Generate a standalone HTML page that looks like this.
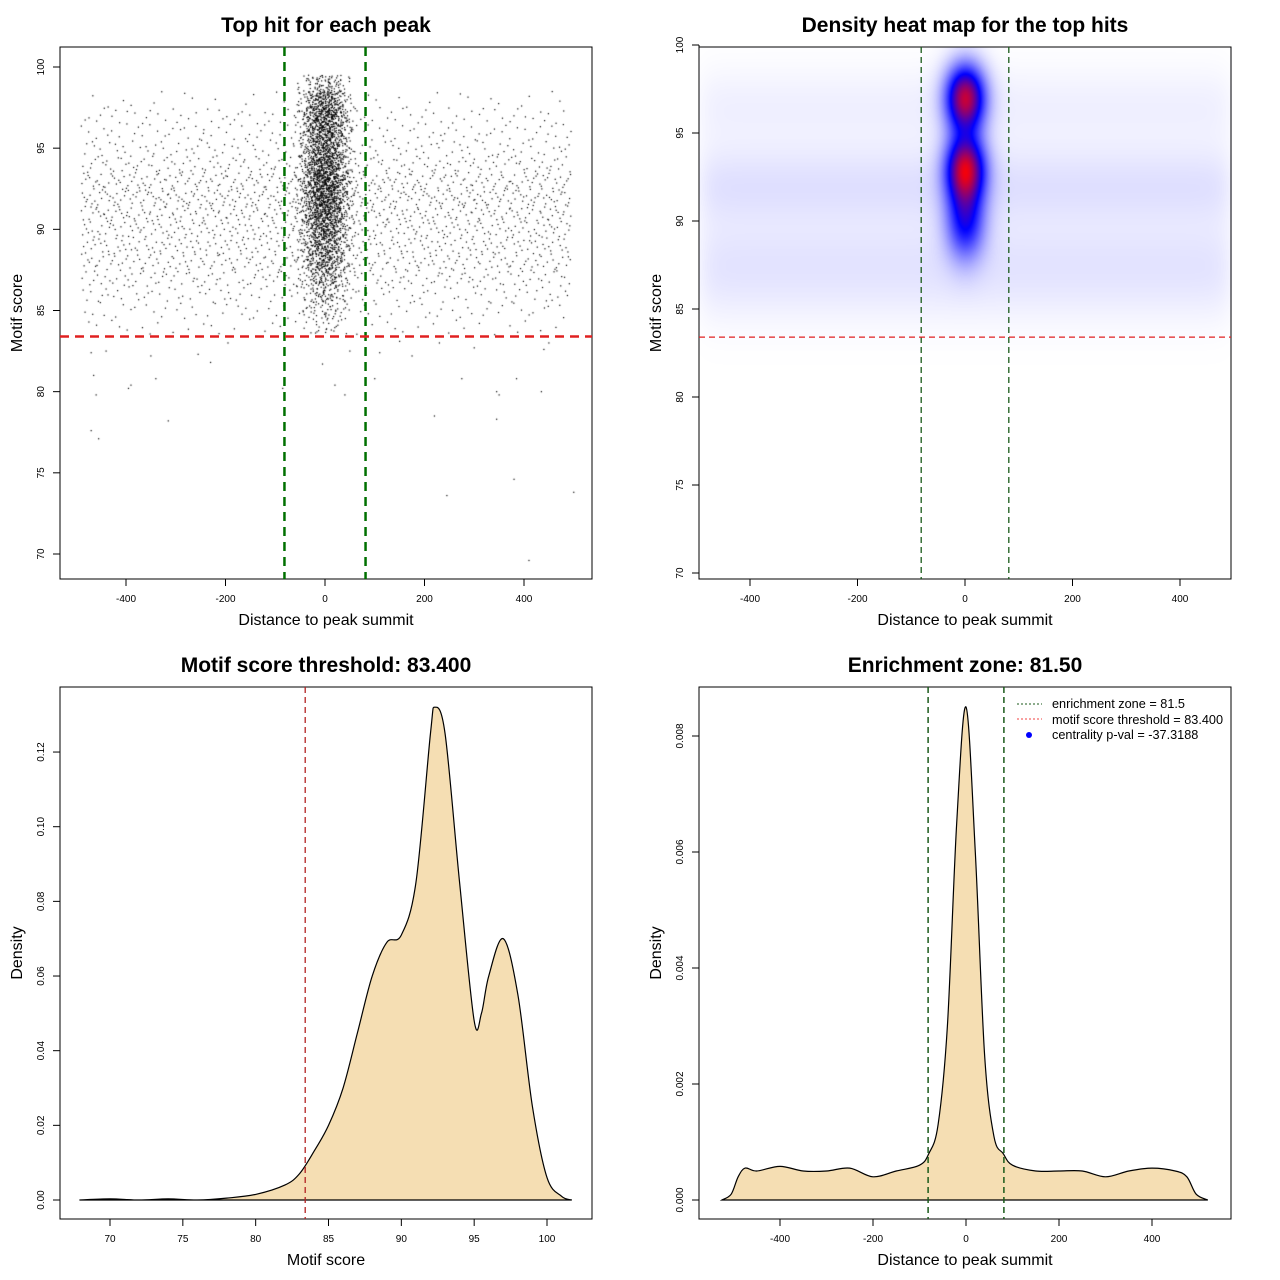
<!DOCTYPE html>
<html><head><meta charset="utf-8"><style>
body{margin:0;background:#fff;}
#wrap{position:relative;width:1280px;height:1280px;overflow:hidden;background:#fff;}
canvas{position:absolute;}
svg{position:absolute;left:0;top:0;}
text{font-family:"Liberation Sans",sans-serif;}
</style></head><body>
<div id="wrap">
<canvas id="scat" width="532" height="532" style="left:60px;top:47px"></canvas>
<canvas id="heat" width="533" height="532" style="left:699px;top:47px"></canvas>
<svg id="svg" width="1280" height="1280"></svg>
</div>
<script>
// ---- data ----
const bgYBins=[84,85,86,87,88,89,90,91,92,93,94,95,96,97,98];
const bgYCounts=[40,70,100,150,190,200,210,240,260,230,160,110,90,80,30];
const ctrYBins=[84,85,86,87,88,89,90,91,92,93,94,95,96,97,98,99];
const ctrYCounts=[20,40,70,110,170,200,250,300,340,350,300,260,280,300,220,90];
const outX=[-470,-465,-460,-470,-455,-395,-390,-350,-340,-315,-255,-195,-85,-5,20,40,50,100,110,175,220,230,275,345,345,350,380,385,410,435,440,500,245,450,-440,-230,150,300];
const outY=[82.4,81,79.8,77.6,77.1,80.2,80.4,82.2,80.8,78.2,82.3,83.0,80.2,81.7,80.4,79.8,82.5,80.8,82.4,82.2,78.5,83,80.8,78.3,80,79.8,74.6,80.8,69.6,80,82.6,73.8,73.6,83,82.5,81.8,83.1,82.7];
const blobX=[0,0,0];
const blobY=[97,93,90];
const blobW=[0.85,0.85,0.45];
const bandY=[92,88,96.5,86];
const bandW=[0.06,0.04,0.03,0.025];
const scoreX=[67.9,70,72,74,76,78,80,82,83,84,85,86,87,88,89,90,91,92,92.3,93,94,95,95.5,96,97,98,99,100,101,101.7];
const scoreD=[0,0.0003,0,0.0003,0,0.0005,0.0015,0.004,0.007,0.013,0.02,0.03,0.045,0.06,0.069,0.071,0.085,0.125,0.132,0.125,0.085,0.048,0.05,0.06,0.07,0.055,0.025,0.006,0.001,0];
const distX=[-525,-505,-490,-475,-450,-400,-350,-300,-250,-200,-150,-100,-80,-60,-40,-20,0,20,40,60,80,100,150,200,250,300,350,400,450,475,495,520];
const distD=[0,0.0001,0.0004,0.00055,0.0005,0.00058,0.0005,0.0005,0.00055,0.0004,0.0005,0.0006,0.0008,0.0013,0.003,0.0065,0.0085,0.006,0.0025,0.0011,0.0008,0.0006,0.0005,0.0005,0.0005,0.0004,0.0005,0.00055,0.0005,0.0004,0.0001,0];
const zone=81.5, thr=83.4;

// ---- scales ----
const x1=v=>325+v*0.4975, y1=v=>67+(100-v)*16.233;
const x2=v=>965+v*0.5375, y2=v=>45+(100-v)*17.6;
const x3=v=>110+(v-70)*14.567, y3=v=>1200-v*3733;
const x4=v=>966+v*0.465, y4=v=>1200-v*58000;

const svg=document.getElementById('svg');
const NS='http://www.w3.org/2000/svg';
function mk(tag,attrs,parent){const e=document.createElementNS(NS,tag);for(const k in attrs)e.setAttribute(k,attrs[k]);(parent||svg).appendChild(e);return e;}
function txt(s,x,y,size,opts){const e=mk('text',Object.assign({x:x,y:y,'font-size':size,'text-anchor':'middle'},opts||{}));e.textContent=s;return e;}

function halton(i,b){let f=1,r=0;while(i>0){f/=b;r+=f*(i%b);i=Math.floor(i/b);}return r;}

// scatter
const sc=document.getElementById('scat').getContext('2d');
sc.fillStyle='#000';
function dot(x,y){sc.fillRect(x-60-0.6,y-47-0.6,1.2,1.2);}
let idx=1;
bgYBins.forEach((b,k)=>{for(let i=0;i<bgYCounts[k];i++){const v=-490+halton(idx,2)*985;const w=b-0.5+halton(idx,3);idx++;dot(x1(v),y1(w));}});
ctrYBins.forEach((b,k)=>{for(let i=0;i<ctrYCounts[k];i++){const v=(halton(idx,2)+halton(idx,5)+halton(idx,7)-1.5)*46;const w=b-0.5+halton(idx,3);idx++;dot(x1(v),y1(w));}});
outX.forEach((v,i)=>dot(x1(v),y1(outY[i])));

// heatmap
const hc=document.getElementById('heat').getContext('2d');
const img=hc.createImageData(533,532);
for(let py=0;py<532;py++){const w=100-(py+47-45)/17.6;
 let band=0;bandY.forEach((b,k)=>{band+=bandW[k]*Math.exp(-(w-b)*(w-b)/(2*1.6*1.6));});
 for(let px=0;px<533;px++){const v=(px+699-965)/0.5375;
  let edge=1/(1+Math.exp((Math.abs(v)-490)/12));
  let d=band*edge;
  blobX.forEach((bx,k)=>{const sy=k==2?1.5:1.3;d+=blobW[k]*Math.exp(-(v-bx)*(v-bx)/(2*25*25)-(w-blobY[k])*(w-blobY[k])/(2*sy*sy));});
  let t=Math.min(1,d);let r,g,b;
  if(t<0.5){r=g=255*(1-2*t);b=255;}else{r=255*(2*t-1);g=0;b=255*(2-2*t);}
  const o=(py*533+px)*4;img.data[o]=r;img.data[o+1]=g;img.data[o+2]=b;img.data[o+3]=255;}}
hc.putImageData(img,0,0);

// axes
function panel(bx,by,title,xt,yt,xticks,xs,xlab,yticks,ys,ylab,pname){
 const g=mk('g',{});
 
 
 const r=mk('rect',{x:bx,y:by,width:532,height:532,fill:'none',stroke:'#000','stroke-width':1},g);
 
 
 const t=txt(title,bx+266,by-15,21,{'font-weight':'bold'});g.appendChild(t);
 
 
 const ax=mk('line',{x1:xs(xticks[0]),x2:xs(xticks[xticks.length-1]),y1:by+532,y2:by+532,stroke:'#000'},g);
 
 
 xticks.forEach((v,i)=>{mk('line',{x1:xs(v),x2:xs(v),y1:by+532,y2:by+539,stroke:'#000'},g);const l=txt(xlab[i],xs(v),by+555,10);g.appendChild(l);
  
  });
 const ay=mk('line',{x1:bx,x2:bx,y1:ys(yticks[0]),y2:ys(yticks[yticks.length-1]),stroke:'#000'},g);
 
 
 yticks.forEach((v,i)=>{mk('line',{x1:bx-7,x2:bx,y1:ys(v),y2:ys(v),stroke:'#000'},g);const yy=ys(v);const l=txt(ylab[i],bx-16,yy,10,{transform:`rotate(-90 ${bx-16} ${yy})`});g.appendChild(l);
  
  });
 const xl=txt(xt,bx+266,by+578,16);g.appendChild(xl);
 
 
 const yl=txt(yt,0,0,16,{transform:`translate(${bx-38},${by+266}) rotate(-90)`});g.appendChild(yl);
 
 
}
const dT=[-400,-200,0,200,400];
const sT=[70,75,80,85,90,95,100];
panel(60,47,'Top hit for each peak','Distance to peak summit','Motif score',dT,x1,dT.map(String),sT,y1,sT.map(String),'scatter-panel');
panel(699,47,'Density heat map for the top hits','Distance to peak summit','Motif score',dT,x2,dT.map(String),sT,y2,sT.map(String),'heatmap-panel');
const d3=[0,0.02,0.04,0.06,0.08,0.10,0.12];
panel(60,687,'Motif score threshold: 83.400','Motif score','Density',sT,x3,sT.map(String),d3,y3,d3.map(v=>v.toFixed(2)),'score-density-panel');
const d4=[0,0.002,0.004,0.006,0.008];
panel(699,687,'Enrichment zone: 81.50','Distance to peak summit','Density',dT,x4,dT.map(String),d4,y4,d4.map(v=>v.toFixed(3)),'distance-density-panel');

// reference lines
function vline(x,yA,yB,col,w,dash,name){const l=mk('line',{x1:x,x2:x,y1:yA,y2:yB,stroke:col,'stroke-width':w,'stroke-dasharray':dash});
 
 }
function hline(y,xA,xB,col,w,dash,name){const l=mk('line',{x1:xA,x2:xB,y1:y,y2:y,stroke:col,'stroke-width':w,'stroke-dasharray':dash});
 
 }
vline(x1(-zone),47,579,'#007000',2.5,'9,6','zone-line-left');
vline(x1(zone),47,579,'#007000',2.5,'9,6','zone-line-right');
hline(y1(thr),60,592,'#e02020',2.5,'9,6','threshold-line');
vline(x2(-zone),47,579,'#1a5a1a',1.3,'6,4','zone-line-left');
vline(x2(zone),47,579,'#1a5a1a',1.3,'6,4','zone-line-right');
hline(y2(thr),699,1231,'#e02020',1.3,'6,4','threshold-line');

// density curves
function curve(xs,ys,X,Y){const p=X.map((v,i)=>[xs(v),ys(Y[i])]);let d=`M${p[0][0]},${p[0][1]}`;
 for(let i=0;i<p.length-1;i++){const a=p[i-1]||p[i],b=p[i],c=p[i+1],e=p[i+2]||c;
  d+=` C${b[0]+(c[0]-a[0])/6},${b[1]+(c[1]-a[1])/6} ${c[0]-(e[0]-b[0])/6},${c[1]-(e[1]-b[1])/6} ${c[0]},${c[1]}`;}
 return d;}
const c3=mk('path',{d:curve(x3,y3,scoreX,scoreD)+'Z',fill:'#f5deb3',stroke:'#000','stroke-width':1.2});


vline(x3(thr),687,1219,'#b22222',1.3,'6,4','threshold-line');
const c4=mk('path',{d:curve(x4,y4,distX,distD)+'Z',fill:'#f5deb3',stroke:'#000','stroke-width':1.2});


vline(x4(-zone),687,1219,'#1a5a1a',1.5,'6,4','zone-line-left');
vline(x4(zone),687,1219,'#1a5a1a',1.5,'6,4','zone-line-right');

// legend
const lg=mk('g',{});


mk('line',{x1:1017,x2:1042,y1:704,y2:704,stroke:'#1a5a1a','stroke-dasharray':'2,2'},lg);
mk('line',{x1:1017,x2:1042,y1:719,y2:719,stroke:'#f04040','stroke-dasharray':'2,2'},lg);
mk('circle',{cx:1029,cy:735,r:3,fill:'#0000ff'},lg);
[['enrichment zone = 81.5',708],['motif score threshold = 83.400',724],['centrality p-val = -37.3188',739]].forEach(a=>{const t=txt(a[0],1052,a[1],12.7,{'text-anchor':'start'});lg.appendChild(t);
 
 });
</script>
</body></html>
